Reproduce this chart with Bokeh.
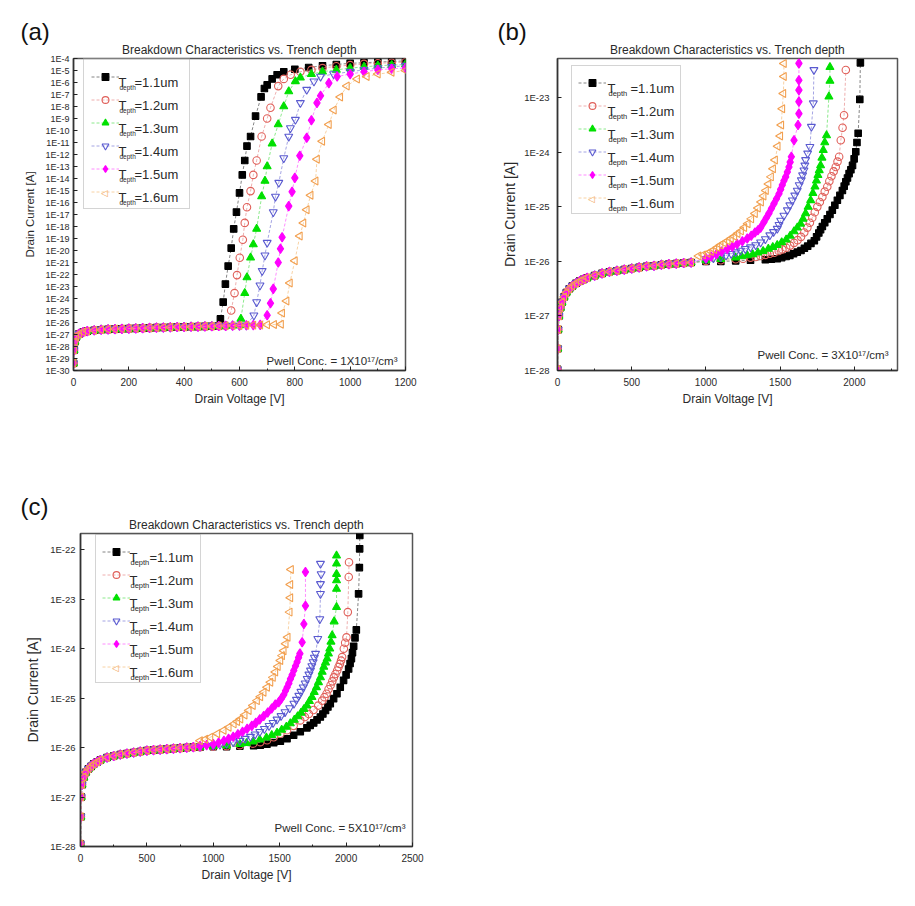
import numpy as np
from bokeh.plotting import figure
from bokeh.models import Range1d, Label, Legend, LegendItem, FixedTicker, CustomJSTickFormatter, Title
from bokeh.layouts import column, row
from bokeh.embed import file_html
from bokeh.resources import INLINE

FONT = "Liberation Sans"
TEXT_COLOR = "#2a2a2a"

TITLE = "Breakdown Characteristics vs. Trench depth"
DEPTH_LABELS = ["=1.1um", "=1.2um", "=1.3um", "=1.4um", "=1.5um", "=1.6um"]
PWELL_TEXT = ["Pwell Conc. = 1X10¹⁷/cm³", "Pwell Conc. = 3X10¹⁷/cm³", "Pwell Conc. = 5X10¹⁷/cm³"]
PANEL_LETTERS = ["(a)", "(b)", "(c)"]
X_LABEL = "Drain Voltage [V]"
Y_LABEL = "Drain Current [A]"

# ---------------- panel (a): Pwell 1e17 ----------------
# shared leakage plateau (voltage [V], log10 current [A])
A_PLAT_V = [0, 2, 5, 10, 20, 35, 50, 75, 100, 125, 150, 175, 200, 225, 250, 275, 300, 325, 350,
            375, 400, 425, 450, 475, 500, 525, 550, 575, 600, 625, 650, 675, 700, 725, 750]
A_PLAT_LOG = [-29.4, -28.3, -27.6, -27.2, -26.95, -26.8, -26.72, -26.65, -26.6, -26.57, -26.55, -26.53,
              -26.51, -26.49, -26.47, -26.45, -26.43, -26.42, -26.4, -26.38, -26.37, -26.35, -26.34,
              -26.32, -26.31, -26.29, -26.28, -26.26, -26.25, -26.23, -26.22, -26.2, -26.18, -26.17, -26.15]
A_PLAT_END = [525, 550, 600, 625, 675, 750]

A_V = [
    [531, 541, 549, 559, 570, 579, 589, 600, 610, 619, 627, 640, 658, 678, 690, 700, 718, 736, 760, 800,
     850, 900, 950, 1000, 1050, 1100, 1150, 1200],
    [570, 582, 591, 601, 612, 619, 627, 640, 650, 662, 680, 700, 712, 740, 760, 785, 820, 860, 900, 950,
     1000, 1050, 1100, 1150, 1200],
    [605, 619, 627, 640, 650, 662, 680, 692, 700, 718, 740, 760, 778, 802, 820, 860, 900, 950, 1000, 1050,
     1100, 1150, 1200],
    [652, 662, 674, 682, 692, 700, 722, 730, 742, 760, 778, 784, 802, 820, 843, 869, 893, 940, 1000, 1050,
     1100, 1150, 1200],
    [700, 712, 722, 740, 748, 754, 778, 790, 800, 818, 843, 860, 880, 893, 923, 953, 1000, 1050, 1100,
     1150, 1200],
    [754, 770, 782, 800, 818, 831, 843, 857, 875, 880, 899, 923, 941, 964, 988, 1025, 1060, 1100, 1150, 1200],
]
A_LOG = [
    [-25.7, -24.3, -22.8, -21.3, -19.8, -18.2, -16.8, -15.2, -13.7, -12.5, -11.3, -10.5, -8.8, -7.2, -6.5,
     -6.2, -5.7, -5.35, -5.1, -4.9, -4.75, -4.6, -4.5, -4.4, -4.35, -4.3, -4.25, -4.2],
    [-25.0, -23.55, -22.05, -20.6, -19.1, -17.7, -16.4, -15.05, -13.7, -12.5, -10.5, -9.0, -8.1, -6.3, -5.7,
     -5.35, -5.1, -4.95, -4.8, -4.65, -4.55, -4.45, -4.4, -4.35, -4.3],
    [-25.7, -23.55, -22.25, -20.6, -19.5, -18.2, -15.5, -14.2, -13.0, -11.1, -9.5, -8.0, -6.75, -5.9, -5.6,
     -5.3, -5.1, -4.95, -4.8, -4.7, -4.6, -4.55, -4.5],
    [-25.4, -24.3, -22.9, -21.7, -20.4, -19.35, -16.8, -15.5, -14.35, -12.3, -10.5, -9.8, -9.1, -7.7, -6.6,
     -5.9, -5.5, -5.3, -5.1, -4.95, -4.8, -4.7, -4.6],
    [-25.4, -24.4, -23.2, -21.0, -19.85, -18.9, -16.3, -15.1, -13.95, -12.1, -10.6, -9.15, -7.7, -7.1, -6.05,
     -5.5, -5.3, -5.1, -4.95, -4.85, -4.8],
    [-25.2, -24.2, -22.7, -20.85, -18.8, -17.7, -16.6, -15.4, -14.2, -12.4, -10.9, -9.5, -8.3, -7.2, -6.3,
     -5.7, -5.5, -5.3, -5.15, -5.0],
]

# ---------------- panel (b): Pwell 3e17 ----------------
B_PLAT_V = [0, 2, 5, 10, 20, 30, 45, 60, 80, 100, 125, 150, 175, 200, 250, 300, 350, 400, 450, 500,
            550, 600, 650, 700, 750, 800, 850, 900]
B_PLAT_LOG = [-27.98, -27.6, -27.25, -27.0, -26.85, -26.75, -26.65, -26.57, -26.5, -26.45, -26.4, -26.36,
              -26.33, -26.3, -26.26, -26.22, -26.19, -26.17, -26.15, -26.13, -26.11, -26.09, -26.08, -26.06,
              -26.05, -26.04, -26.03, -26.02]
B_V = [
    [1000, 1100, 1200, 1300, 1400, 1440, 1480, 1510, 1540, 1565, 1590, 1615, 1640, 1663, 1685, 1707, 1730,
     1745, 1760, 1772, 1784, 1800, 1817, 1835, 1851, 1868, 1885, 1902, 1919, 1931, 1942, 1953, 1964, 1976,
     1987, 1998, 2009, 2017, 2025, 2036, 2040],
    [1000, 1100, 1200, 1250, 1300, 1335, 1368, 1400, 1430, 1460, 1490, 1515, 1540, 1567, 1593, 1617, 1640,
     1662, 1683, 1700, 1716, 1733, 1750, 1767, 1784, 1800, 1817, 1831, 1845, 1860, 1874, 1886, 1897, 1908,
     1920, 1930, 1942],
    [1000, 1100, 1200, 1240, 1278, 1315, 1350, 1385, 1420, 1450, 1480, 1510, 1540, 1567, 1593, 1615, 1637,
     1654, 1671, 1688, 1705, 1720, 1734, 1744, 1754, 1763, 1772, 1781, 1790, 1800, 1812, 1828, 1835, 1835],
    [1000, 1050, 1100, 1135, 1170, 1200, 1233, 1265, 1300, 1335, 1368, 1400, 1430, 1455, 1480, 1492, 1503,
     1525, 1548, 1565, 1582, 1598, 1615, 1628, 1642, 1651, 1660, 1666, 1671, 1685, 1700, 1710, 1723, 1727],
    [1000, 1035, 1070, 1105, 1143, 1177, 1210, 1245, 1278, 1305, 1330, 1350, 1368, 1390, 1407, 1424, 1441,
     1458, 1475, 1492, 1503, 1514, 1525, 1537, 1548, 1559, 1567, 1575, 1593, 1620, 1626, 1626, 1626, 1626,
     1626],
    [950, 980, 1011, 1034, 1056, 1077, 1098, 1122, 1146, 1168, 1191, 1213, 1236, 1258, 1281, 1305, 1330,
     1350, 1371, 1388, 1404, 1421, 1438, 1452, 1465, 1483, 1500, 1507, 1514, 1521, 1525, 1525],
]
B_LOG = [
    [-26.0, -26.0, -25.99, -25.98, -25.97, -25.96, -25.95, -25.93, -25.91, -25.89, -25.86, -25.83, -25.8,
     -25.76, -25.72, -25.67, -25.62, -25.55, -25.48, -25.42, -25.36, -25.29, -25.22, -25.14, -25.06, -24.97,
     -24.88, -24.79, -24.70, -24.62, -24.54, -24.47, -24.39, -24.32, -24.24, -24.12, -23.99, -23.82, -23.65,
     -23.03, -22.36],
    [-25.99, -25.98, -25.96, -25.95, -25.93, -25.92, -25.9, -25.88, -25.86, -25.84, -25.81, -25.78, -25.75,
     -25.71, -25.66, -25.61, -25.55, -25.47, -25.38, -25.29, -25.2, -25.1, -25.0, -24.91, -24.82, -24.72,
     -24.63, -24.53, -24.44, -24.35, -24.27, -24.17, -24.08, -23.78, -23.55, -23.32, -22.49],
    [-25.98, -25.96, -25.93, -25.91, -25.89, -25.87, -25.84, -25.81, -25.77, -25.74, -25.7, -25.65, -25.6,
     -25.53, -25.45, -25.38, -25.31, -25.22, -25.12, -25.0, -24.88, -24.75, -24.63, -24.52, -24.42, -24.33,
     -24.24, -24.1, -23.96, -23.82, -23.69, -22.98, -22.69, -22.44],
    [-25.96, -25.94, -25.92, -25.89, -25.86, -25.83, -25.8, -25.77, -25.74, -25.7, -25.65, -25.59, -25.52,
     -25.46, -25.4, -25.33, -25.25, -25.16, -25.06, -24.97, -24.88, -24.79, -24.70, -24.6, -24.51, -24.42,
     -24.33, -24.24, -24.14, -24.02, -23.90, -23.53, -23.10, -22.49],
    [-25.94, -25.91, -25.87, -25.82, -25.77, -25.73, -25.68, -25.63, -25.58, -25.53, -25.47, -25.43, -25.38,
     -25.28, -25.2, -25.12, -25.03, -24.94, -24.85, -24.76, -24.68, -24.60, -24.52, -24.45, -24.36, -24.27,
     -24.18, -24.08, -23.78, -23.50, -23.29, -23.07, -22.86, -22.68, -22.37],
    [-25.9, -25.88, -25.85, -25.82, -25.78, -25.74, -25.7, -25.66, -25.62, -25.58, -25.54, -25.49, -25.44,
     -25.38, -25.31, -25.22, -25.12, -25.02, -24.91, -24.8, -24.70, -24.58, -24.45, -24.3, -24.14, -23.89,
     -23.7, -23.50, -23.20, -22.92, -22.61, -22.37],
]

# ---------------- panel (c): Pwell 5e17 ----------------
C_PLAT_V = [0, 3, 6, 12, 25, 40, 60, 80, 100, 125, 150, 200, 250, 300, 350, 400, 450, 500, 550, 600,
            650, 700, 750, 800, 850]
C_PLAT_LOG = [-27.95, -27.4, -27.0, -26.75, -26.6, -26.5, -26.43, -26.38, -26.33, -26.29, -26.25, -26.2,
              -26.17, -26.14, -26.12, -26.1, -26.08, -26.06, -26.05, -26.04, -26.03, -26.02, -26.01, -26.0,
              -25.99]
C_V = [
    [900, 1000, 1100, 1200, 1304, 1354, 1404, 1455, 1505, 1555, 1605, 1655, 1705, 1730, 1756, 1781, 1806,
     1825, 1845, 1863, 1881, 1906, 1931, 1956, 1981, 2000, 2019, 2030, 2040, 2048, 2057, 2067, 2077, 2094,
     2100, 2102, 2103],
    [900, 1000, 1100, 1200, 1300, 1354, 1405, 1455, 1505, 1555, 1605, 1655, 1690, 1720, 1755, 1790, 1820,
     1837, 1853, 1868, 1883, 1896, 1908, 1920, 1933, 1943, 1953, 1962, 1970, 1983, 1993, 2003, 2013, 2020,
     2022],
    [900, 1000, 1100, 1200, 1250, 1300, 1350, 1400, 1440, 1480, 1515, 1550, 1580, 1610, 1635, 1660, 1683,
     1705, 1724, 1743, 1760, 1777, 1792, 1807, 1820, 1832, 1845, 1857, 1867, 1877, 1886, 1895, 1910, 1928,
     1928, 1928, 1928, 1928, 1928],
    [900, 1000, 1050, 1100, 1150, 1200, 1240, 1280, 1315, 1350, 1385, 1420, 1450, 1480, 1510, 1540, 1575,
     1607, 1626, 1644, 1660, 1677, 1692, 1707, 1720, 1732, 1742, 1752, 1761, 1770, 1787, 1802, 1807, 1807,
     1812, 1807],
    [900, 950, 1000, 1040, 1080, 1115, 1150, 1185, 1220, 1255, 1290, 1320, 1350, 1380, 1410, 1440, 1467,
     1493, 1512, 1531, 1544, 1556, 1569, 1581, 1594, 1606, 1619, 1631, 1642, 1652, 1669, 1682, 1694, 1694],
    [900, 940, 978, 1030, 1078, 1116, 1154, 1180, 1204, 1236, 1267, 1298, 1329, 1354, 1379, 1405, 1430,
     1449, 1467, 1486, 1505, 1518, 1530, 1545, 1560, 1575, 1580, 1580, 1585],
]
C_LOG = [
    [-25.99, -25.98, -25.98, -25.97, -25.96, -25.95, -25.93, -25.9, -25.87, -25.82, -25.75, -25.68, -25.6,
     -25.55, -25.5, -25.44, -25.38, -25.32, -25.25, -25.18, -25.11, -25.01, -24.91, -24.78, -24.64, -24.53,
     -24.41, -24.3, -24.2, -24.08, -23.95, -23.78, -23.62, -22.89, -22.36, -21.98, -21.71],
    [-25.99, -25.98, -25.97, -25.95, -25.92, -25.89, -25.85, -25.79, -25.72, -25.65, -25.56, -25.45, -25.38,
     -25.32, -25.24, -25.15, -25.05, -24.98, -24.91, -24.82, -24.74, -24.66, -24.58, -24.51, -24.44, -24.37,
     -24.31, -24.24, -24.17, -24.0, -23.88, -23.77, -23.26, -22.55, -22.25],
    [-25.99, -25.97, -25.96, -25.93, -25.91, -25.88, -25.84, -25.8, -25.75, -25.7, -25.64, -25.58, -25.51,
     -25.44, -25.37, -25.3, -25.22, -25.15, -25.06, -24.98, -24.88, -24.78, -24.68, -24.58, -24.47, -24.37,
     -24.28, -24.2, -24.1, -24.0, -23.86, -23.73, -23.45, -23.16, -22.79, -22.62, -22.49, -22.28, -22.12],
    [-25.98, -25.96, -25.94, -25.92, -25.89, -25.86, -25.82, -25.78, -25.73, -25.68, -25.62, -25.56, -25.5,
     -25.43, -25.36, -25.28, -25.2, -25.11, -25.03, -24.95, -24.87, -24.78, -24.7, -24.61, -24.52, -24.44,
     -24.35, -24.27, -24.18, -24.10, -23.80, -23.40, -22.89, -22.69, -22.49, -22.28],
    [-25.97, -25.95, -25.93, -25.9, -25.86, -25.82, -25.78, -25.73, -25.68, -25.62, -25.56, -25.5, -25.43,
     -25.36, -25.29, -25.21, -25.13, -25.08, -25.01, -24.93, -24.85, -24.78, -24.7, -24.61, -24.53, -24.44,
     -24.35, -24.27, -24.18, -24.10, -23.87, -23.50, -23.13, -22.45],
    [-25.86, -25.83, -25.79, -25.72, -25.65, -25.59, -25.52, -25.47, -25.42, -25.34, -25.25, -25.15, -25.05,
     -24.97, -24.88, -24.78, -24.68, -24.58, -24.47, -24.36, -24.24, -24.14, -24.04, -23.9, -23.77, -23.26,
     -22.97, -22.70, -22.40],
]

# ---------------- styles ----------------
MARKERS = ["square", "circle", "triangle", "inverted_triangle", "diamond", "triangle"]
ANGLES = [0, 0, 0, 0, 0, np.pi / 2]
COLORS = ["#000000", "#e0605a", "#00e000", "#5a5ad0", "#ff00ff", "#f2a050"]
LINE_COLORS = ["#555555", "#e89090", "#60e060", "#8080d8", "#ff60ff", "#f5c080"]
FILLED = [True, False, True, False, True, False]
SIZES = [6.5, 7.5, 8, 8, 9.5, 8]

GEO = [
    dict(x0=0, y0=0, w=480, h=490, fl=73, ft=57, fw=332, fh=313),
    dict(x0=480, y0=0, w=435, h=490, fl=77, ft=58, fw=340, fh=312),
    dict(x0=0, y0=490, w=440, h=416, fl=80, ft=43, fw=332, fh=313),
]
LEG = [
    dict(left=83, top=60, pad=7, label_w=58, t_x=118, eq_x=134, sub=6.5, fs=13),
    dict(left=571, top=67, pad=6, label_w=63, t_x=607, eq_x=630, sub=7.5, fs=13),
    dict(left=95, top=536, pad=6, label_w=59, t_x=129, eq_x=149, sub=7.5, fs=13),
]
TXT = [
    dict(letter_x=20, pwell=(397, 360)),
    dict(letter_x=497, pwell=(888, 354)),
    dict(letter_x=20, pwell=(405, 827)),
]
AX = [
    dict(ylab=11.5, ytick=9, yls=4, yas=6),
    dict(ylab=14, ytick=9.5, yls=8, yas=3),
    dict(ylab=14, ytick=9.5, yls=5, yas=6),
]


def make_panel(i, x_end, y_lo, y_hi, x_ticks, x_minor, y_exps, plat_v, plat_l, plat_end, sv, sl):
    g, lg, tx, ax = GEO[i], LEG[i], TXT[i], AX[i]
    p = figure(width=g["w"], height=g["h"], x_range=Range1d(0, x_end),
               y_range=Range1d(10.0 ** y_lo, 10.0 ** y_hi), y_axis_type="log",
               output_backend="svg", toolbar_location=None,
               min_border_left=g["fl"], min_border_top=g["ft"],
               min_border_right=g["w"] - g["fl"] - g["fw"],
               min_border_bottom=g["h"] - g["ft"] - g["fh"])
    p.title_location = None
    p.background_fill_color = "white"
    p.border_fill_color = "white"
    p.outline_line_color = "#555555"
    p.outline_line_width = 1.5
    p.xgrid.visible = False
    p.ygrid.visible = False

    def rx(xi):
        return xi - g["x0"] - g["fl"]

    def ry(yi):
        return g["y0"] + g["ft"] + g["fh"] - yi

    p.xaxis.ticker = FixedTicker(ticks=x_ticks, minor_ticks=x_minor)
    p.yaxis.ticker = FixedTicker(ticks=[10.0 ** k for k in y_exps], minor_ticks=[])
    p.yaxis.formatter = CustomJSTickFormatter(code="return '1E' + Math.round(Math.log10(tick));")
    for a in (p.xaxis[0], p.yaxis[0]):
        a.axis_line_color = "#333333"
        a.axis_line_width = 1.5
        a.major_tick_in = 4
        a.major_tick_out = 0
        a.minor_tick_in = 2
        a.minor_tick_out = 0
        a.major_tick_line_color = "#222222"
        a.minor_tick_line_color = "#222222"
        a.major_label_text_font = FONT
        a.major_label_text_color = TEXT_COLOR
        a.axis_label_text_font = FONT
        a.axis_label_text_font_style = "normal"
        a.axis_label_text_color = TEXT_COLOR
    p.xaxis.major_label_text_font_size = "10px"
    p.xaxis.major_label_standoff = 7
    p.xaxis.axis_label = X_LABEL
    p.xaxis.axis_label_text_font_size = "12px"
    p.xaxis.axis_label_standoff = 3
    p.yaxis.major_label_text_font_size = f"{ax['ytick']}px"
    p.yaxis.major_label_standoff = ax["yls"]
    p.yaxis.axis_label = Y_LABEL
    p.yaxis.axis_label_text_font_size = f"{ax['ylab']}px"
    p.yaxis.axis_label_standoff = ax["yas"]

    # titles outside the frame: chart title next to the frame, panel letter above it
    p.add_layout(Title(text=TITLE, align="center", text_font=FONT, text_font_size="12px",
                       text_font_style="normal", text_color=TEXT_COLOR, standoff=3), "above")
    p.add_layout(Title(text=PANEL_LETTERS[i], align="left", offset=tx["letter_x"] - g["x0"] - g["fl"],
                       text_font=FONT, text_font_size="24px", text_font_style="normal",
                       text_color="#111111", standoff=-10), "above")

    items = []
    for k in range(6):
        end = plat_end[k] if plat_end is not None else plat_v[-1]
        pv = [v for v in plat_v if v <= end]
        pl = [l for v, l in zip(plat_v, plat_l) if v <= end]
        xs = np.array(pv + sv[k], dtype=float)
        ys = 10.0 ** np.array(pl + sl[k], dtype=float)
        ln = p.line(xs, ys, line_color=LINE_COLORS[k], line_width=0.9, line_alpha=0.8, line_dash="3 2")
        sc = p.scatter(xs, ys, marker=MARKERS[k], size=SIZES[k], angle=ANGLES[k],
                       line_color=COLORS[k], line_width=1.1,
                       fill_color=COLORS[k] if FILLED[k] else None)
        rends = [ln] if ANGLES[k] != 0 else [ln, sc]
        items.append(LegendItem(label=" ", renderers=rends))

    pad = lg["pad"]
    gh, sp = 20, 3
    leg_h = 2 * pad + 6 * gh + 5 * sp
    legend = Legend(items=items, location=(rx(lg["left"]), ry(lg["top"] + leg_h)),
                    orientation="vertical", padding=pad, spacing=sp, margin=0,
                    glyph_height=17, glyph_width=28, label_height=gh, label_width=lg["label_w"],
                    label_standoff=5, label_text_font_size="2px",
                    border_line_color="#aaaaaa", border_line_width=1,
                    background_fill_alpha=0.0)
    p.add_layout(legend)

    def txt(x, y, text, size, align="left", color=TEXT_COLOR, baseline="alphabetic"):
        p.add_layout(Label(x=x, y=y, x_units="screen", y_units="screen", text=text,
                           text_font=FONT, text_font_size=f"{size}px", text_color=color,
                           text_align=align, text_baseline=baseline))

    for k in range(6):
        cy = lg["top"] + pad + gh / 2 + k * (gh + sp)
        if ANGLES[k] != 0:
            # left-pointing hollow triangle swatch (legend glyphs are drawn unrotated)
            txt(rx(lg["left"] + pad + 14), ry(cy), "◁", 9, align="center", color=COLORS[k],
                baseline="middle")
        txt(rx(lg["t_x"]), ry(cy + 4.5), "T", lg["fs"])
        txt(rx(lg["t_x"] + 1), ry(cy + 10), "depth", lg["sub"])
        txt(rx(lg["eq_x"]), ry(cy + 4.5), DEPTH_LABELS[k], lg["fs"])

    txt(rx(tx["pwell"][0]), ry(tx["pwell"][1]), PWELL_TEXT[i], 11.5, align="right")
    return p


pa = make_panel(0, 1200, -30, -4, list(range(0, 1201, 200)), list(range(100, 1200, 200)),
                list(range(-30, -3)), A_PLAT_V, A_PLAT_LOG, A_PLAT_END, A_V, A_LOG)
pb = make_panel(1, 2290, -28, -22.28, [0, 500, 1000, 1500, 2000], [250, 750, 1250, 1750, 2250],
                list(range(-28, -22)), B_PLAT_V, B_PLAT_LOG, None, B_V, B_LOG)
pc = make_panel(2, 2500, -28, -21.67, [0, 500, 1000, 1500, 2000, 2500], [250, 750, 1250, 1750, 2250],
                list(range(-28, -21)), C_PLAT_V, C_PLAT_LOG, None, C_V, C_LOG)

layout = column(row(pa, pb), pc)
open("out.html", "w").write(file_html(layout, INLINE))
